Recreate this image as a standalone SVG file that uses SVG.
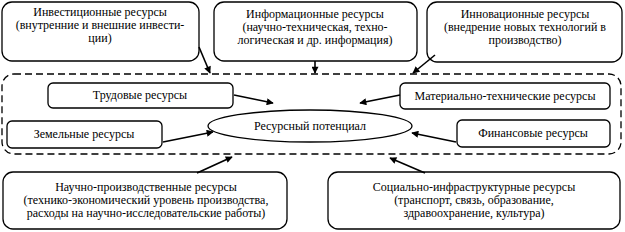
<svg xmlns="http://www.w3.org/2000/svg" width="625" height="232" viewBox="0 0 625 232">
<defs>
<marker id="ah" viewBox="0 0 10 10" refX="9" refY="5" markerWidth="8" markerHeight="7" markerUnits="userSpaceOnUse" orient="auto">
<path d="M0,0 L10,5 L0,10 z" fill="#000"/>
</marker>
<style>
.box{fill:#fff;stroke:#000;stroke-width:1.3}
.t{font-family:'Liberation Serif','Times New Roman',serif;font-size:12px;fill:#000;text-anchor:middle}
.c{stroke:#000;stroke-width:1.6;fill:none;marker-end:url(#ah)}
.dash{fill:none;stroke:#000;stroke-width:1.3;stroke-dasharray:7,4}
</style>
</defs>
<rect width="625" height="232" fill="#fff"/>
<g id="frame"><rect class="dash" x="2" y="74" width="619" height="80" rx="12"/></g>
<g id="n-invest"><rect class="box" x="2" y="2" width="197" height="59" rx="10"/>
<text class="t" x="100" y="16">Инвестиционные ресурсы</text>
<text class="t" x="100" y="29">(внутренние и внешние инвести-</text>
<text class="t" x="100" y="42">ции)</text></g>
<g id="n-info"><rect class="box" x="214" y="2" width="203" height="59" rx="10"/>
<text class="t" x="315" y="18">Информационные ресурсы</text>
<text class="t" x="315" y="31">(научно-техническая, техно-</text>
<text class="t" x="315" y="44">логическая и др. информация)</text></g>
<g id="n-innov"><rect class="box" x="427" y="2" width="195" height="60" rx="10"/>
<text class="t" x="525" y="18">Инновационные ресурсы</text>
<text class="t" x="525" y="31">(внедрение новых технологий в</text>
<text class="t" x="525" y="44">производство)</text></g>
<g id="n-labor"><rect class="box" x="48" y="83" width="185" height="25" rx="5"/>
<text class="t" x="140" y="99">Трудовые ресурсы</text></g>
<g id="n-land"><rect class="box" x="7" y="121" width="155" height="27" rx="5"/>
<text class="t" x="84" y="138">Земельные ресурсы</text></g>
<g id="n-mat"><rect class="box" x="400" y="83" width="210" height="26" rx="5"/>
<text class="t" x="505" y="100">Материально-технические ресурсы</text></g>
<g id="n-fin"><rect class="box" x="457" y="120" width="153" height="27" rx="5"/>
<text class="t" x="533" y="137">Финансовые ресурсы</text></g>
<g id="n-center"><ellipse class="box" cx="310" cy="126" rx="102" ry="16"/>
<text class="t" x="310" y="130">Ресурсный потенциал</text></g>
<g id="n-sci"><rect class="box" x="3" y="172" width="284" height="57" rx="10"/>
<text class="t" x="146" y="191">Научно-производственные ресурсы</text>
<text class="t" x="146" y="204">(технико-экономический уровень производства,</text>
<text class="t" x="146" y="217">расходы на научно-исследовательские работы)</text></g>
<g id="n-soc"><rect class="box" x="328" y="172" width="292" height="57" rx="10"/>
<text class="t" x="474" y="191">Социально-инфраструктурные ресурсы</text>
<text class="t" x="474" y="204">(транспорт, связь, образование,</text>
<text class="t" x="474" y="217">здравоохранение, культура)</text></g>
<g id="connectors">
<line class="c" x1="199" y1="47" x2="210" y2="73"/>
<line class="c" x1="315" y1="61" x2="315" y2="73"/>
<line class="c" x1="435" y1="55" x2="413" y2="73"/>
<line class="c" x1="234" y1="95" x2="273" y2="103"/>
<line class="c" x1="163" y1="142" x2="213" y2="132"/>
<line class="c" x1="400" y1="95" x2="360" y2="103"/>
<line class="c" x1="456" y1="142" x2="412" y2="133"/>
<line class="c" x1="197" y1="173" x2="232" y2="157"/>
<line class="c" x1="425" y1="173" x2="390" y2="158"/>
</g>
</svg>
